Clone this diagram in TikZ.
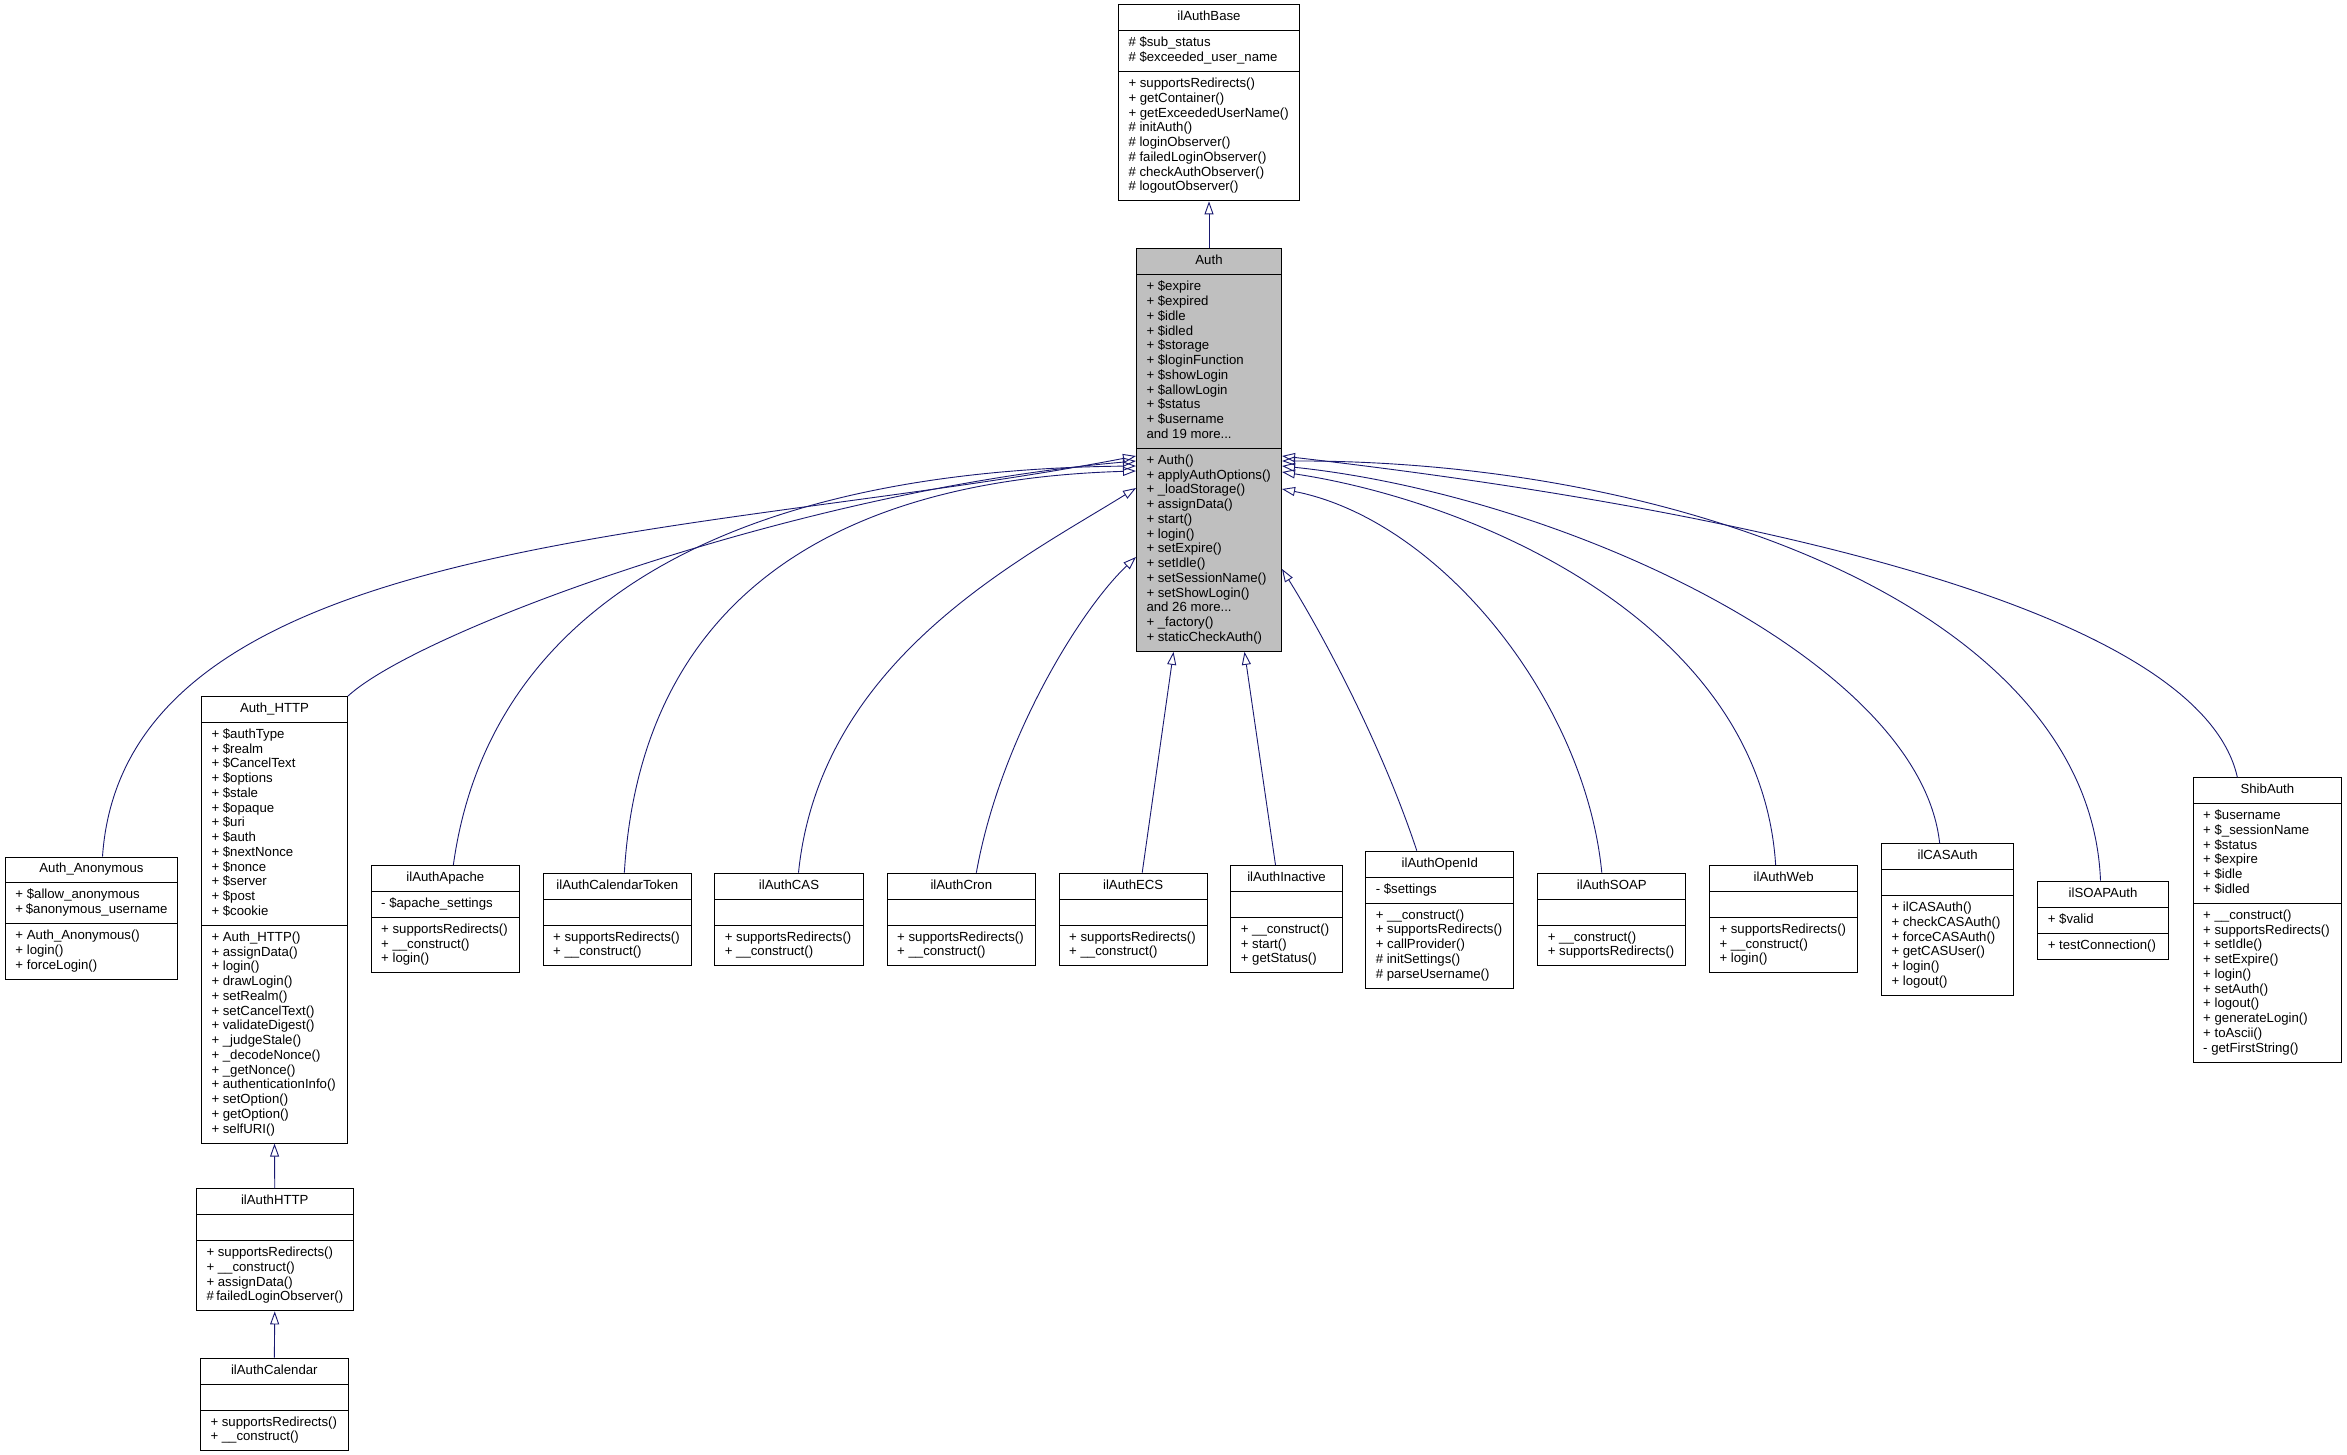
\documentclass[tikz,border=0pt]{standalone}
\usepackage{fontspec}
\usetikzlibrary{arrows.meta, shapes.multipart}
\newfontfamily\umlfont{Liberation Sans}
\definecolor{edgeblue}{HTML}{191970}
\definecolor{baseg}{HTML}{BFBFBF}

% one strut at each end keeps every row the same height
\newcommand{\mbr}[1]{\strut#1\strut}
\newcommand{\ttl}[1]{\makebox[\linewidth]{\mbr{#1}}}

\begin{document}
\begin{tikzpicture}[x=1pt, y=-1pt,
  cls/.style={rectangle split, rectangle split parts=3, draw=black, line width=1pt,
    fill=white, anchor=north west, inner xsep=10pt, inner ysep=5.1pt, align=flush left,
    text width=#1, font=\umlfont\fontsize{13.2}{14.75}\selectfont},
  inherit/.style={draw=edgeblue, line width=0.9pt, -{Triangle[open, length=13pt, width=9pt]}}]

% Background
\fill[white] (0,0) rectangle (2347,1455);
\useasboundingbox (0,0) rectangle (2347,1455);

% ============================================================
% Base classes
% ============================================================
\node[cls=161pt] (base) at (1118,4.5) {\ttl{ilAuthBase}
  \nodepart{two}\mbr{\#~\$sub\_status\\\#~\$exceeded\_user\_name}
  \nodepart{three}\mbr{+~supportsRedirects()\\+~getContainer()\\+~getExceededUserName()\\\#~initAuth()\\\#~loginObserver()\\\#~failedLoginObserver()\\\#~checkAuthObserver()\\\#~logoutObserver()}};

\node[cls=125pt, fill=baseg] (auth) at (1136,248.5) {\ttl{Auth}
  \nodepart{two}\mbr{+~\$expire\\+~\$expired\\+~\$idle\\+~\$idled\\+~\$storage\\+~\$loginFunction\\+~\$showLogin\\+~\$allowLogin\\+~\$status\\+~\$username\\and 19 more...}
  \nodepart{three}\mbr{+~Auth()\\+~applyAuthOptions()\\+~\_loadStorage()\\+~assignData()\\+~start()\\+~login()\\+~setExpire()\\+~setIdle()\\+~setSessionName()\\+~setShowLogin()\\and 26 more...\\+~\_factory()\\+~staticCheckAuth()}};

% ============================================================
% Left branch
% ============================================================
\node[cls=152pt] (anon) at (5,856.5) {\ttl{Auth\_Anonymous}
  \nodepart{two}\mbr{+~\$allow\_anonymous\\+~\$anonymous\_username}
  \nodepart{three}\mbr{+~Auth\_Anonymous()\\+~login()\\+~forceLogin()}};

\node[cls=126pt] (http) at (201,696) {\ttl{Auth\_HTTP}
  \nodepart{two}\mbr{+~\$authType\\+~\$realm\\+~\$CancelText\\+~\$options\\+~\$stale\\+~\$opaque\\+~\$uri\\+~\$auth\\+~\$nextNonce\\+~\$nonce\\+~\$server\\+~\$post\\+~\$cookie}
  \nodepart{three}\mbr{+~Auth\_HTTP()\\+~assignData()\\+~login()\\+~drawLogin()\\+~setRealm()\\+~setCancelText()\\+~validateDigest()\\+~\_judgeStale()\\+~\_decodeNonce()\\+~\_getNonce()\\+~authenticationInfo()\\+~setOption()\\+~getOption()\\+~selfURI()}};

\node[cls=136.5pt] (ilhttp) at (196,1188.3) {\ttl{ilAuthHTTP}
  \nodepart{two}\mbr{}
  \nodepart{three}\mbr{+~supportsRedirects()\\+~\_\_construct()\\+~assignData()\\\#~failedLoginObserver()}};

\node[cls=127.7pt] (ilcal) at (200,1357.7) {\ttl{ilAuthCalendar}
  \nodepart{two}\mbr{}
  \nodepart{three}\mbr{+~supportsRedirects()\\+~\_\_construct()}};

\node[cls=128.3pt] (apache) at (370.7,865) {\ttl{ilAuthApache}
  \nodepart{two}\mbr{-~\$apache\_settings}
  \nodepart{three}\mbr{+~supportsRedirects()\\+~\_\_construct()\\+~login()}};

\node[cls=128.3pt] (caltoken) at (542.7,872.7) {\ttl{ilAuthCalendarToken}
  \nodepart{two}\mbr{}
  \nodepart{three}\mbr{+~supportsRedirects()\\+~\_\_construct()}};

\node[cls=128.4pt] (authcas) at (714.3,872.7) {\ttl{ilAuthCAS}
  \nodepart{two}\mbr{}
  \nodepart{three}\mbr{+~supportsRedirects()\\+~\_\_construct()}};

\node[cls=128.3pt] (cron) at (886.7,872.7) {\ttl{ilAuthCron}
  \nodepart{two}\mbr{}
  \nodepart{three}\mbr{+~supportsRedirects()\\+~\_\_construct()}};

\node[cls=128pt] (ecs) at (1058.7,872.7) {\ttl{ilAuthECS}
  \nodepart{two}\mbr{}
  \nodepart{three}\mbr{+~supportsRedirects()\\+~\_\_construct()}};

% ============================================================
% Right branch
% ============================================================
\node[cls=91.4pt] (inactive) at (1230.3,865) {\ttl{ilAuthInactive}
  \nodepart{two}\mbr{}
  \nodepart{three}\mbr{+~\_\_construct()\\+~start()\\+~getStatus()}};

\node[cls=128pt] (openid) at (1365.3,850.7) {\ttl{ilAuthOpenId}
  \nodepart{two}\mbr{-~\$settings}
  \nodepart{three}\mbr{+~\_\_construct()\\+~supportsRedirects()\\+~callProvider()\\\#~initSettings()\\\#~parseUsername()}};

\node[cls=128pt] (soap) at (1537.3,872.7) {\ttl{ilAuthSOAP}
  \nodepart{two}\mbr{}
  \nodepart{three}\mbr{+~\_\_construct()\\+~supportsRedirects()}};

\node[cls=128.3pt] (web) at (1709,865) {\ttl{ilAuthWeb}
  \nodepart{two}\mbr{}
  \nodepart{three}\mbr{+~supportsRedirects()\\+~\_\_construct()\\+~login()}};

\node[cls=112.3pt] (casauth) at (1881,843.3) {\ttl{ilCASAuth}
  \nodepart{two}\mbr{}
  \nodepart{three}\mbr{+~ilCASAuth()\\+~checkCASAuth()\\+~forceCASAuth()\\+~getCASUser()\\+~login()\\+~logout()}};

\node[cls=110.4pt] (soapauth) at (2037.3,880.7) {\ttl{ilSOAPAuth}
  \nodepart{two}\mbr{+~\$valid}
  \nodepart{three}\mbr{+~testConnection()}};

\node[cls=128.3pt] (shib) at (2192.7,777.3) {\ttl{ShibAuth}
  \nodepart{two}\mbr{+~\$username\\+~\$\_sessionName\\+~\$status\\+~\$expire\\+~\$idle\\+~\$idled}
  \nodepart{three}\mbr{+~\_\_construct()\\+~supportsRedirects()\\+~setIdle()\\+~setExpire()\\+~login()\\+~setAuth()\\+~logout()\\+~generateLogin()\\+~toAscii()\\-~getFirstString()}};

% ============================================================
% Inheritance edges
% ============================================================
\draw[inherit] (auth.north) -- (base.south);
\draw[inherit] (ilhttp.north) -- (http.south);
\draw[inherit] (ilcal.north) -- (ilhttp.south);

% into the left side of Auth
\draw[inherit] ([xshift=11pt]anon.north) .. controls (125,530) and (700,540) .. ([yshift=-207.5pt]auth.north west);
\draw[inherit] (http.north east) .. controls (420,630) and (800,490) .. ([yshift=-212.5pt]auth.north west);
\draw[inherit] ([xshift=8pt]apache.north) .. controls (490,600) and (740,470) .. ([yshift=-217.5pt]auth.north west);
\draw[inherit] ([xshift=7pt]caltoken.north) .. controls (640,610) and (820,480) .. ([yshift=-222.5pt]auth.north west);
\draw[inherit] ([xshift=9.5pt]authcas.north) .. controls (820,660) and (1020,560) .. ([yshift=-239.5pt]auth.north west);
\draw[inherit] ([xshift=15pt]cron.north) .. controls (1000,740) and (1080,610) .. ([yshift=-308.5pt]auth.north west);

% into the bottom of Auth
\draw[inherit] ([xshift=9pt]ecs.north) -- ([xshift=-35.5pt]auth.south);
\draw[inherit] ([xshift=-11pt]inactive.north) -- ([xshift=35.5pt]auth.south);

% into the right side of Auth
\draw[inherit] ([xshift=-23pt]openid.north) .. controls (1380,740) and (1320,630) .. ([yshift=-320.5pt]auth.north east);
\draw[inherit] ([xshift=-10pt]soap.north) .. controls (1585,700) and (1440,520) .. ([yshift=-240.5pt]auth.north east);
\draw[inherit] ([xshift=-8pt]web.north) .. controls (1760,620) and (1470,500) .. ([yshift=-223.5pt]auth.north east);
\draw[inherit] ([xshift=-8pt]casauth.north) .. controls (1920,660) and (1560,495) .. ([yshift=-217.5pt]auth.north east);
\draw[inherit] ([xshift=-2.5pt]soapauth.north) .. controls (2090,610) and (1680,460) .. ([yshift=-212.5pt]auth.north east);
\draw[inherit] ([xshift=-30pt]shib.north) .. controls (2200,610) and (1750,510) .. ([yshift=-207.5pt]auth.north east);

\end{tikzpicture}
\end{document}
